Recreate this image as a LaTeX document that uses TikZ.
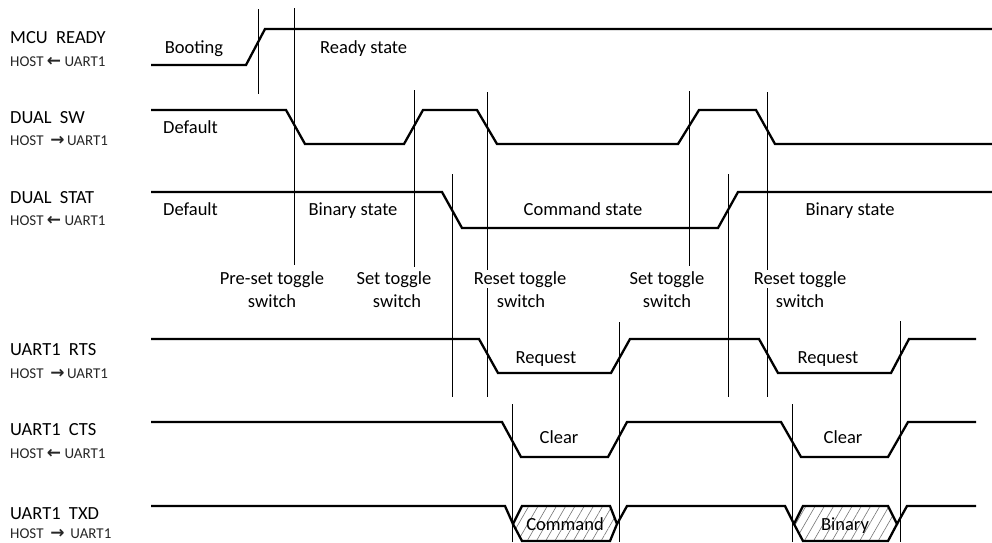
\documentclass[tikz,border=0pt]{standalone}
\usepackage{fontspec}
\setmainfont{Carlito}
\newfontfamily\arrfont{DejaVu Sans}
\usetikzlibrary{patterns.meta}
\newcommand{\LA}{{\arrfont\bfseries\fontsize{17}{17}\selectfont ←}}
\newcommand{\RA}{{\arrfont\bfseries\fontsize{17}{17}\selectfont →}}
\begin{document}
\begin{tikzpicture}[x=1pt,y=-1pt,
  sig/.style={line width=2.3pt, line join=miter},
  vline/.style={line width=0.8pt},
  lbl/.style={font=\fontsize{18.5}{21}\selectfont, inner sep=0pt, anchor=base},
  nm/.style={lbl, anchor=base west},
  sub/.style={font=\fontsize{15}{17}\selectfont, text=black!85, inner sep=0pt, anchor=base west},
  hatch/.style={pattern={Lines[angle=60,distance=8pt,line width=0.6pt]}, pattern color=black!55},
  wbg/.style={fill=white, inner sep=1pt}
]
\useasboundingbox (0,0) rectangle (992,542);

% vertical marker lines
\draw[vline] (258,9) -- (258,94);
\draw[vline] (294,8) -- (294,265);
\draw[vline] (414,90) -- (414,267);
\draw[vline] (487,92) -- (487,397);
\draw[vline] (452,174) -- (452,397);
\draw[vline] (689,91) -- (689,266);
\draw[vline] (767,92) -- (767,397);
\draw[vline] (728,174) -- (728,397);
\draw[vline] (619,322) -- (619,542);
\draw[vline] (900,321) -- (900,542);
\draw[vline] (512,404) -- (512,542);
\draw[vline] (792,404) -- (792,542);

% signal names
\node[nm] (n1) at (10,43) {MCU\ \ READY};
\node[sub] (s1) at (10,66) {HOST \LA\ UART1};
\node[nm] (n2) at (10,123) {DUAL\ \ SW};
\node[sub] (s2) at (10,145) {HOST \ \RA\,UART1};
\node[nm] (n3) at (10,203) {DUAL\ \ STAT};
\node[sub] (s3) at (10,225) {HOST \LA\ UART1};
\node[nm] (n4) at (10,355) {UART1\ \ RTS};
\node[sub] (s4) at (10,378) {HOST \ \RA\,UART1};
\node[nm] (n5) at (10,435) {UART1\ \ CTS};
\node[sub] (s5) at (10,458) {HOST \LA\ UART1};
\node[nm] (n6) at (10,519) {UART1\ \ TXD};
\node[sub] (s6) at (10,538) {HOST \ \RA\ \,UART1};

% waveforms
\draw[sig] (151,65) -- (246,65) -- (265,29) -- (992,29);
\draw[sig] (151,110) -- (286,110) -- (305,144) -- (404,144) -- (423,110) -- (477,110) -- (497,144) -- (678,144) -- (699,110) -- (756,110) -- (775,144) -- (992,144);
\draw[sig] (151,192) -- (442,192) -- (462,228) -- (718,228) -- (738,192) -- (992,192);
\draw[sig] (151,339) -- (479,339) -- (498,373) -- (611,373) -- (630,339) -- (759,339) -- (778,373) -- (891,373) -- (909,339) -- (976,339);
\draw[sig] (151,422) -- (502,422) -- (521,457) -- (608,457) -- (627,422) -- (781,422) -- (801,457) -- (888,457) -- (908,422) -- (976,422);
\draw[sig] (151,506) -- (505,506) -- (513,524);
\draw[sig, hatch] (513,524) -- (522,506) -- (610,506) -- (617,524) -- (610,541) -- (522,541) -- cycle;
\draw[sig] (617,524) -- (627,506) -- (785,506) -- (794,524);
\draw[sig, hatch] (794,524) -- (803,506) -- (888,506) -- (897,524) -- (888,541) -- (803,541) -- cycle;
\draw[sig] (897,524) -- (907,506) -- (976,506);

% state labels
\node[lbl] (t1) at (194,53) {Booting};
\node[lbl, anchor=base west] (t2) at (320,53) {Ready state};
\node[lbl, anchor=base west] (t3) at (163,133) {Default};
\node[lbl, anchor=base west] (t4) at (163,215) {Default};
\node[lbl] (t5) at (353,215) {Binary state};
\node[lbl] (t6) at (583,215) {Command state};
\node[lbl] (t7) at (850,215) {Binary state};
\node[lbl] (t8) at (546,363) {Request};
\node[lbl] (t9) at (828,363) {Request};
\node[lbl] (t10) at (559,443) {Clear};
\node[lbl] (t11) at (843,443) {Clear};
\node[lbl] (t12) at (565,530) {Command};
\node[lbl] (t13) at (845,530) {Binary};

% event labels
\node[lbl] (e1a) at (272,284) {Pre-set toggle};
\node[lbl] (e1b) at (272,307) {switch};
\node[lbl] (e2a) at (394,284) {Set toggle};
\node[lbl] (e2b) at (397,307) {switch};
\node[lbl, wbg] (e3a) at (520,284) {Reset toggle};
\node[lbl] (e3b) at (521,307) {switch};
\node[lbl] (e4a) at (667,284) {Set toggle};
\node[lbl] (e4b) at (667,307) {switch};
\node[lbl, wbg] (e5a) at (800,284) {Reset toggle};
\node[lbl] (e5b) at (800,307) {switch};
\end{tikzpicture}
\end{document}
